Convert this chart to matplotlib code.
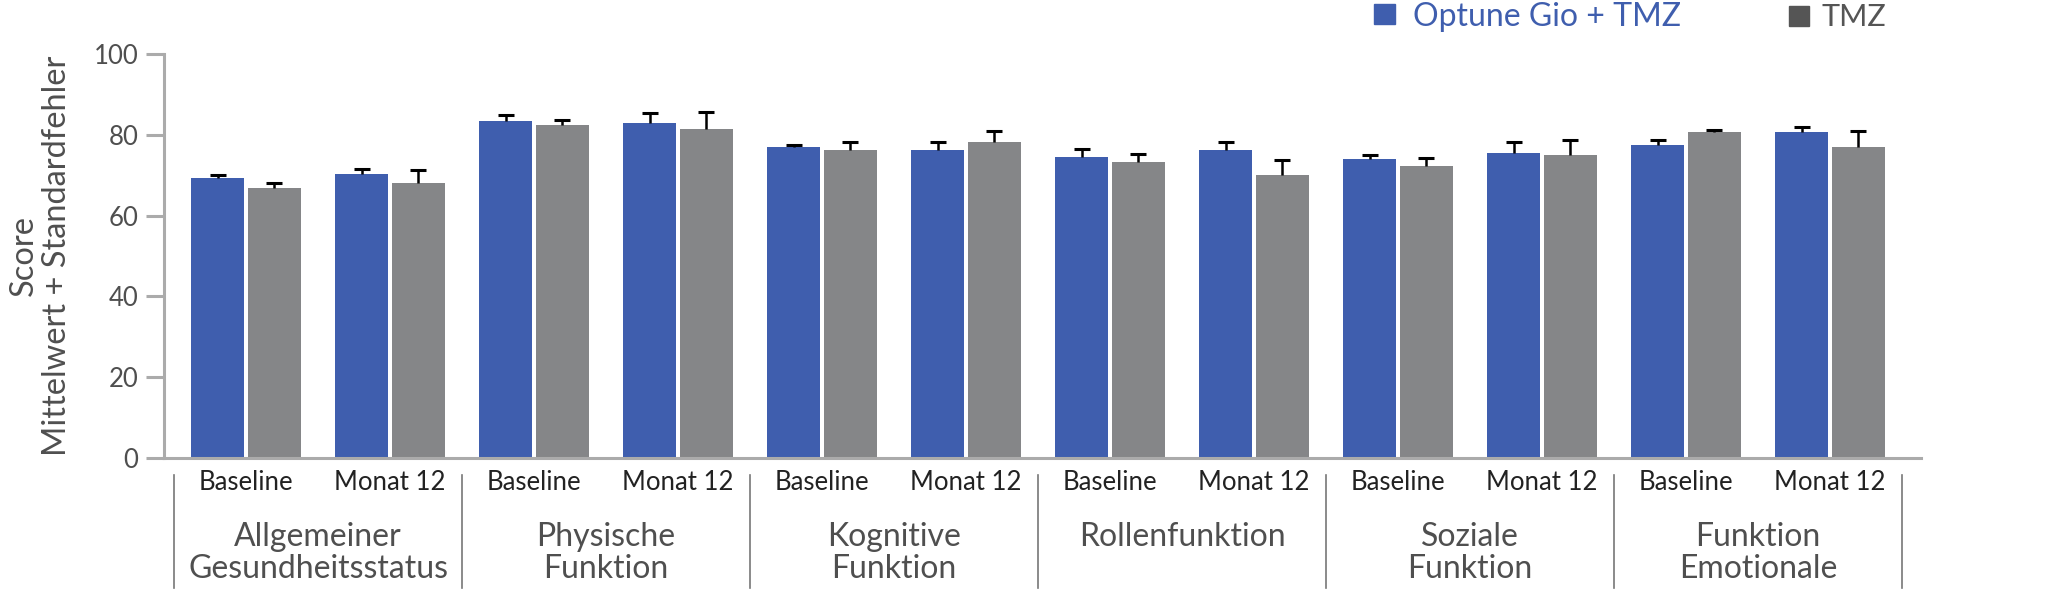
import matplotlib
matplotlib.use('Agg')
import matplotlib.pyplot as plt
from matplotlib.patches import Rectangle
import numpy as np

plt.rcParams['font.family'] = ['Lato', 'DejaVu Sans']

# -- data
groups = ['Allgemeiner\nGesundheitsstatus', 'Physische\nFunktion', 'Kognitive\nFunktion',
          'Rollenfunktion', 'Soziale\nFunktion', 'Funktion\nEmotionale']
timepoints = ['Baseline', 'Monat 12']
series_names = ['Optune Gio + TMZ', 'TMZ']

optune_mean = [69.2, 70.3, 83.4, 82.9, 77.1, 76.3, 74.6, 76.3, 74.0, 75.6, 77.5, 80.7]
optune_se = [0.8, 1.3, 1.6, 2.6, 0.4, 2.0, 1.8, 2.0, 1.1, 2.7, 1.3, 1.2]
tmz_mean = [66.8, 68.1, 82.5, 81.4, 76.3, 78.1, 73.2, 70.1, 72.4, 75.1, 80.6, 77.1]
tmz_se = [1.3, 3.2, 1.2, 4.3, 2.0, 2.8, 2.1, 3.7, 1.8, 3.7, 0.7, 3.8]
yticks = [0, 20, 40, 60, 80, 100]

# -- styles
blue = '#3f5eae'
grey = '#858688'
axis_grey = '#ababab'
text_grey = '#4f4f4f'

W, H = 2048, 607
fig = plt.figure(figsize=[W / 100, H / 100], dpi=100)
ax = fig.add_axes([164 / W, 1 - 458 / H, (1921 - 164) / W, (458 - 54) / H])

x = np.arange(len(groups) * len(timepoints))
bw = 0.37
off = 0.196

ax.bar(x - off, optune_mean, bw, color=blue, zorder=2)
ax.bar(x + off, tmz_mean, bw, color=grey, zorder=2)

# -- upward-only error bars (mean + standard error), cap only on top
for xpos, m, se in [(x - off, optune_mean, optune_se), (x + off, tmz_mean, tmz_se)]:
    top = np.array(m) + np.array(se)
    ax.vlines(xpos, m, top, color='black', lw=1.8, zorder=3)
    ax.plot(xpos, top, ls='none', marker='_', ms=12, mew=2.2, color='black', zorder=3)

ax.set_ylim(0, 100)
ax.set_xlim((164 - 246) / 144, (1921 - 246) / 144)
ax.set_yticks(yticks)
ax.tick_params(axis='y', length=13, width=2.2, color=axis_grey, labelcolor=text_grey,
               labelsize=18.5, pad=5.5)
ax.set_xticks(x, timepoints * len(groups))
ax.tick_params(axis='x', length=0, labelsize=18.5, labelcolor='#222222', pad=9)

for s in ['top', 'right']:
    ax.spines[s].set_visible(False)
for s in ['left', 'bottom']:
    ax.spines[s].set_color(axis_grey)
    ax.spines[s].set_linewidth(2.2)

ax.set_ylabel('Score\nMittelwert + Standardfehler', fontsize=23.5, color=text_grey,
              linespacing=1.15)
ax.yaxis.set_label_coords((72 - 164) / 1757, 0.5)

# -- group separators and labels
trans = ax.get_xaxis_transform()
for k in range(len(groups) + 1):
    xs = -0.5 + 2 * k
    ax.plot([xs, xs], [(458 - 475) / 404, (458 - 588) / 404], color='#777777', lw=1.2,
            transform=trans, clip_on=False)
for k, g in enumerate(groups):
    ax.text(2 * k + 0.5, (458 - 522) / 404, g, transform=trans, ha='center', va='top',
            fontsize=23, color=text_grey, linespacing=1.1)

# -- legend at the top
fig.patches.append(Rectangle((1374 / W, 1 - 24 / H), 21 / W, 20 / H, color=blue,
                             transform=fig.transFigure, figure=fig))
fig.text(1413 / W, 1 - 26 / H, series_names[0], color=blue, fontsize=23, va='baseline')
fig.patches.append(Rectangle((1789 / W, 1 - 26 / H), 20 / W, 20 / H, color='#555555',
                             transform=fig.transFigure, figure=fig))
fig.text(1821 / W, 1 - 26 / H, series_names[1], color='#555555', fontsize=22, va='baseline')

fig.savefig('out.png', dpi=100)
